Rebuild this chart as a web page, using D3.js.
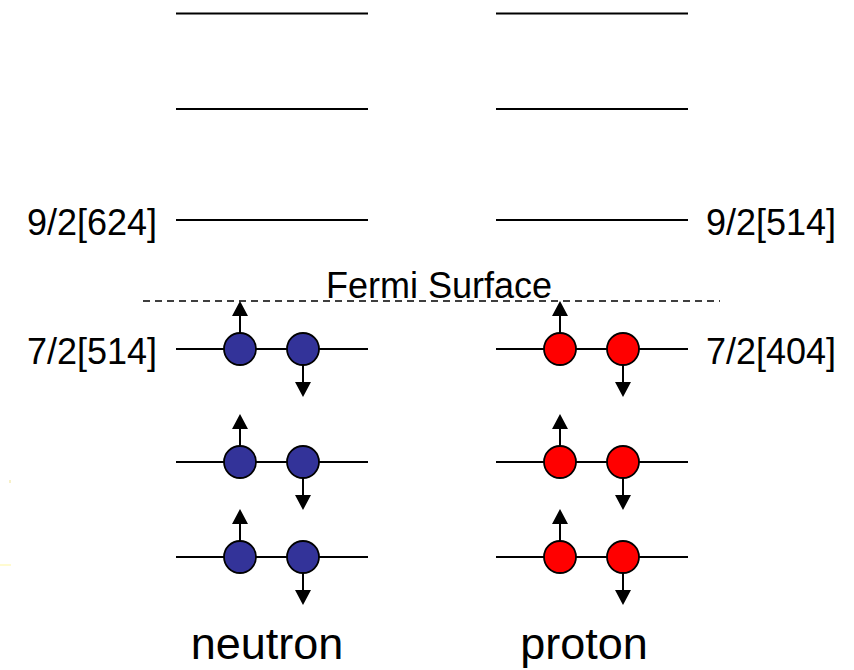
<!DOCTYPE html>
<html>
<head>
<meta charset="utf-8">
<script src="https://cdn.jsdelivr.net/npm/d3@7"></script>
<style>
  html, body { margin: 0; padding: 0; background: #fff; }
  svg { display: block; }
  text { font-family: "Liberation Sans", Arial, sans-serif; fill: #000; }
</style>
</head>
<body>
<svg id="chart" width="854" height="670"></svg>
<script>
// ---- data ----
const species = ["neutron", "proton"];
const levelEnergies = [0, 0.95, 2.08, 3.37, 4.48, 5.435];   // single-particle levels (arb. units)
const occupied = [true, true, true, false, false, false];   // filled below Fermi surface
const fermiEnergy = 2.56;
const neutronLabels = [{level: 3, text: "9/2[624]"}, {level: 2, text: "7/2[514]"}];
const protonLabels  = [{level: 3, text: "9/2[514]"}, {level: 2, text: "7/2[404]"}];
const particleColors = ["#333399", "#ff0000"];
const spins = [{offset: -32, dir: "up"}, {offset: 31, dir: "down"}];

// ---- scales ----
const svg = d3.select("#chart");
const y = d3.scaleLinear().domain([0, 5.435]).range([557, 13.5]);
const x = d3.scalePoint().domain(species).range([272, 592]);
const halfLen = 96;
const r = 16;

// faint artifacts
svg.append("line").attr("x1", 0).attr("x2", 11).attr("y1", 565).attr("y2", 565)
  .attr("stroke", "#fffbd0").attr("stroke-width", 2);
svg.append("rect").attr("x", 9).attr("y", 480).attr("width", 2).attr("height", 3).attr("fill", "#f7f0c8");

// level lines
species.forEach((s) => {
  svg.append("g").selectAll("line").data(levelEnergies).join("line")
    .attr("x1", x(s) - halfLen).attr("x2", x(s) + halfLen)
    .attr("y1", d => y(d)).attr("y2", d => y(d))
    .attr("stroke", "#000").attr("stroke-width", 1.8);
});

// Fermi surface
svg.append("line")
  .attr("x1", 143).attr("x2", 720)
  .attr("y1", y(fermiEnergy)).attr("y2", y(fermiEnergy))
  .attr("stroke", "#000").attr("stroke-width", 1.3)
  .attr("stroke-dasharray", "7,5");
svg.append("text")
  .attr("x", 439).attr("y", y(fermiEnergy) - 3)
  .attr("text-anchor", "middle")
  .style("font-size", "36px")
  .text("Fermi Surface");

// particles with spin arrows
const filled = levelEnergies.filter((e, i) => occupied[i]);
species.forEach((s, si) => {
  const g = svg.append("g");
  filled.forEach(e => {
    spins.forEach(sp => {
      const cx = x(s) + sp.offset, cy = y(e);
      const dir = sp.dir === "up" ? -1 : 1;
      const start = cy + dir * r;
      const tip = start + dir * 32;
      const base = tip - dir * 15;
      g.append("line").attr("x1", cx).attr("x2", cx).attr("y1", start).attr("y2", base)
        .attr("stroke", "#000").attr("stroke-width", 2);
      g.append("path")
        .attr("d", `M${cx},${tip} L${cx - 8},${base} L${cx + 8},${base} Z`)
        .attr("fill", "#000");
      g.append("circle").attr("cx", cx).attr("cy", cy).attr("r", r)
        .attr("fill", particleColors[si]).attr("stroke", "#000").attr("stroke-width", 1.8);
    });
  });
});

// level labels
svg.append("g").selectAll("text").data(neutronLabels).join("text")
  .attr("x", 157).attr("y", d => y(levelEnergies[d.level]) + 15)
  .attr("text-anchor", "end").style("font-size", "36px").text(d => d.text);
svg.append("g").selectAll("text").data(protonLabels).join("text")
  .attr("x", 706).attr("y", d => y(levelEnergies[d.level]) + 15)
  .attr("text-anchor", "start").style("font-size", "36px").text(d => d.text);

// species names
svg.append("g").selectAll("text").data(species).join("text")
  .attr("x", (d, i) => [267, 584][i]).attr("y", 659)
  .attr("text-anchor", "middle").style("font-size", "45px").text(d => d);
</script>
</body>
</html>
